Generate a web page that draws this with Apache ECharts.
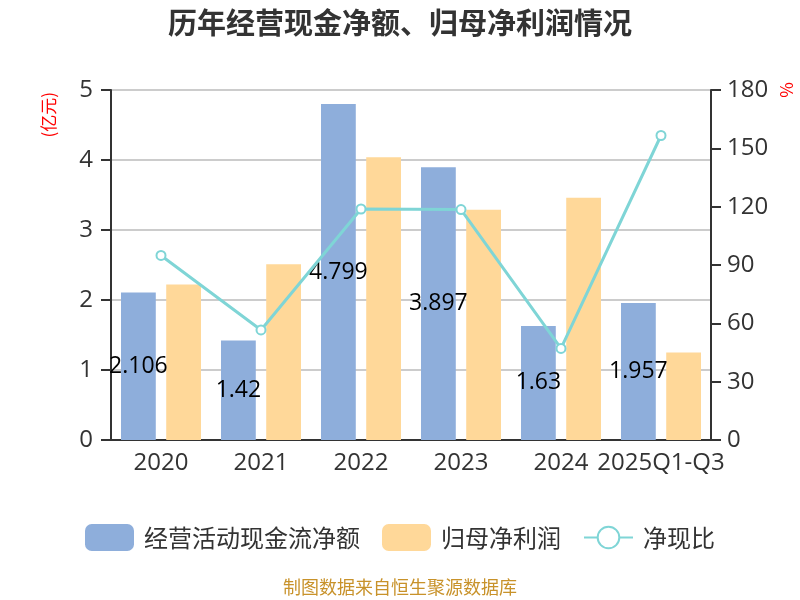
<!DOCTYPE html>
<html><head><meta charset="utf-8">
<script src="https://cdn.jsdelivr.net/npm/echarts@6/dist/echarts.min.js"></script>
<style>html,body{margin:0;padding:0;background:#fff}#c{width:800px;height:600px}</style>
</head><body><div id="c"></div>
<script>
const categories = ['2020','2021','2022','2023','2024','2025Q1-Q3'];
const cashFlow = [2.106, 1.42, 4.799, 3.897, 1.63, 1.957];
const netProfit = [2.22, 2.51, 4.04, 3.29, 3.46, 1.25];
const ratio = [94.9, 56.6, 118.8, 118.5, 47.1, 156.6];
const leftTicks = {min:0, max:5, interval:1};
const rightTicks = {min:0, max:180, interval:30};

const FONT = '"Noto Sans CJK SC", sans-serif';
const NUM = '"Open Sans", "Noto Sans CJK SC", sans-serif';
const chart = echarts.init(document.getElementById('c'));
chart.setOption({
  animation:false,
  textStyle:{fontFamily:FONT},
  title:{text:'历年经营现金净额、归母净利润情况', left:'center', top:3,
    textStyle:{fontSize:29, fontWeight:'bold', color:'#333', fontFamily:FONT}},
  graphic:[
    {type:'text', left:40, top:92, rotation:Math.PI/2,
      style:{text:'(亿元)', fill:'#ff0000', fontSize:17, fontFamily:FONT}},
    {type:'text', left:778, top:82, rotation:Math.PI/2,
      style:{text:'%', fill:'#ff0000', fontSize:17, fontFamily:FONT}},
    {type:'text', left:'center', top:578,
      style:{text:'制图数据来自恒生聚源数据库', fill:'#c8922a', fontSize:18, fontFamily:FONT}}
  ],
  legend:{top:519, left:'center', itemWidth:49, itemHeight:27, itemGap:22,
    textStyle:{fontSize:24, color:'#333', fontFamily:FONT, padding:[0,0,0,5]},
    data:[{name:'经营活动现金流净额', icon:'roundRect'},{name:'归母净利润', icon:'roundRect'},{name:'净现比'}]},
  grid:{left:111, right:89, top:90, bottom:160},
  xAxis:{type:'category', data:categories,
    axisLine:{lineStyle:{color:'#333', width:2}},
    axisTick:{length:9, lineStyle:{color:'#333', width:2}},
    axisLabel:{fontSize:24, color:'#333', margin:11, interval:0, fontFamily:NUM}},
  yAxis:[
    {type:'value', min:leftTicks.min, max:leftTicks.max, interval:leftTicks.interval,
      axisLine:{show:true, lineStyle:{color:'#333', width:2}},
      axisTick:{show:true, length:10, lineStyle:{color:'#333', width:2}},
      axisLabel:{fontSize:24, color:'#333', margin:18, fontFamily:NUM},
      splitLine:{lineStyle:{color:'#ccc', width:2}}},
    {type:'value', min:rightTicks.min, max:rightTicks.max, interval:rightTicks.interval,
      axisLine:{show:true, lineStyle:{color:'#333', width:2}},
      axisTick:{show:true, length:10, lineStyle:{color:'#333', width:2}},
      axisLabel:{fontSize:24, color:'#333', margin:16, fontFamily:NUM},
      splitLine:{show:false}}
  ],
  series:[
    {name:'经营活动现金流净额', type:'bar', data:cashFlow, barGap:'30%', barCategoryGap:'20%',
      itemStyle:{color:'#8eaedb'},
      label:{show:true, position:'inside', color:'#000', fontSize:23, fontFamily:NUM}},
    {name:'归母净利润', type:'bar', data:netProfit, itemStyle:{color:'#ffd899'}},
    {name:'净现比', type:'line', yAxisIndex:1, data:ratio, symbol:'emptyCircle', symbolSize:9,
      lineStyle:{color:'#7fd5d6', width:3}, itemStyle:{color:'#7fd5d6', borderWidth:2}}
  ]
});
</script></body></html>
